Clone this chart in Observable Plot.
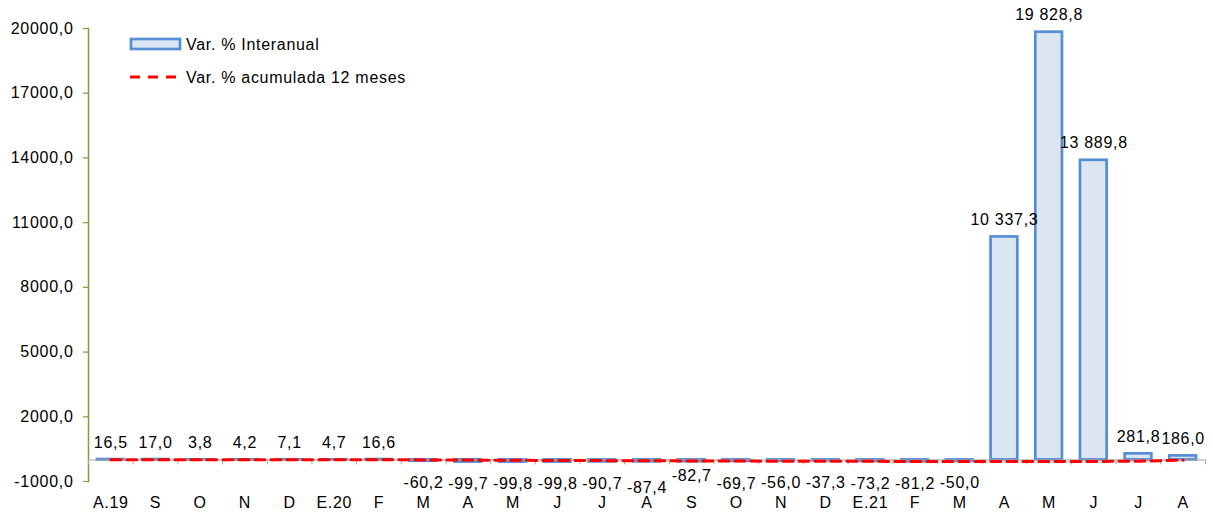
<!DOCTYPE html>
<html>
<head>
<meta charset="utf-8">
<script src="https://cdn.jsdelivr.net/npm/d3@7"></script>
<script src="https://cdn.jsdelivr.net/npm/@observablehq/plot@0.6"></script>
<style>
  html, body { margin: 0; padding: 0; background: #fff; }
  #chart { position: relative; width: 1213px; height: 513px; }
</style>
</head>
<body>
<div id="chart"></div>
<script>
const months = ["A.19","S","O","N","D","E.20","F","M","A","M","J","J","A","S","O","N","D","E.21","F","M","A","M","J","J","A"];
const interanual = [16.5,17.0,3.8,4.2,7.1,4.7,16.6,-60.2,-99.7,-99.8,-99.8,-90.7,-87.4,-82.7,-69.7,-56.0,-37.3,-73.2,-81.2,-50.0,10337.3,19828.8,13889.8,281.8,186.0];
const acumulada = [8.5,8.8,8.5,8.0,7.9,7.6,7.8,1.2,-7.5,-16.5,-25.0,-32.5,-39.8,-46.7,-52.8,-57.9,-61.2,-65.8,-71.1,-71.4,-70.8,-70.2,-68.9,-62.0,-12.0];
const yTicks = [-1000,2000,5000,8000,11000,14000,17000,20000];
const legendLabels = ["Var. % Interanual","Var. % acumulada 12 meses"];

const W = 1213, H = 513, ML = 88, MR = 8, MT = 28, MB = 32;
const yMin = -1000, yMax = 20000;
const idx = d3.range(months.length);
const bw = (W - ML - MR) / months.length;
const unitsPerPx = (yMax - yMin) / (H - MT - MB);
const tickUnits = 5 * unitsPerPx;

const loc = d3.formatLocale({decimal: ",", thousands: " ", grouping: [3], currency: ["", ""], minus: "-"});
const fmtVal = loc.format(",.1f");
const fmtAxis = loc.format(".1f");

const green = "#7f9f3f";
const barFill = "#dce6f2";
const barStroke = "#558ed5";
const red = "#ff0000";
const font = "'Liberation Sans', Arial, sans-serif";

const pos = idx.filter(i => interanual[i] >= 0);
const negDefault = idx.filter(i => interanual[i] < 0 && i !== 12 && i !== 13);

const plot = Plot.plot({
  width: W, height: H,
  marginLeft: ML, marginRight: MR, marginTop: MT, marginBottom: MB,
  style: {fontFamily: font, fontSize: "16px", letterSpacing: "0.7px", color: "#000", background: "#fff"},
  x: {type: "band", domain: idx, padding: 0, round: false, label: null},
  y: {domain: [yMin, yMax], label: null},
  marks: [
    Plot.axisY({ticks: yTicks, tickSize: 5, tickPadding: 10, tickFormat: fmtAxis, stroke: green, fill: "#000", strokeWidth: 1.2, label: null}),
    Plot.axisX({tickSize: 0, tickPadding: 15, tickFormat: i => months[i], fill: "#000", label: null}),
    Plot.frame({anchor: "left", stroke: green, strokeWidth: 1.5}),
    Plot.barY(idx, {x: i => i, y: i => interanual[i], fill: barFill, stroke: barStroke, strokeWidth: 2.7, insetLeft: 9, insetRight: 9}),
    Plot.ruleY([0], {stroke: "#a6a6a6", strokeWidth: 1}),
    Plot.ruleX(idx, {x: i => i, dx: -bw / 2, y1: 0, y2: -tickUnits, stroke: "#a6a6a6"}),
    Plot.ruleX([idx.length - 1], {x: i => i, dx: bw / 2, y1: 0, y2: -tickUnits, stroke: "#a6a6a6"}),
    Plot.lineY(idx, {x: i => i, y: i => acumulada[i], stroke: red, strokeWidth: 3, strokeDasharray: "10,6"}),
    Plot.text(pos, {x: i => i, y: i => interanual[i], text: i => fmtVal(interanual[i]), dy: -17, fill: "#000"}),
    Plot.text(negDefault, {x: i => i, y: i => interanual[i], text: i => fmtVal(interanual[i]), dy: 22, fill: "#000"}),
    Plot.text([12], {x: i => i, y: i => interanual[i], text: i => fmtVal(interanual[i]), dy: 26, fill: "#000"}),
    Plot.text([13], {x: i => i, y: i => interanual[i], text: i => fmtVal(interanual[i]), dy: 14, fill: "#000"})
  ]
});

document.getElementById("chart").appendChild(plot);

// Legend inside the plot area
const svg = d3.select(plot);
const lg = svg.append("g")
  .attr("font-family", font).attr("font-size", 16).attr("letter-spacing", "0.7px")
  .attr("text-anchor", "start").attr("fill", "#000");
lg.append("rect").attr("x", 131).attr("y", 39).attr("width", 49).attr("height", 10)
  .attr("fill", barFill).attr("stroke", barStroke).attr("stroke-width", 2.7);
lg.append("text").attr("x", 186).attr("y", 44).attr("dy", "0.35em").attr("text-anchor", "start").text(legendLabels[0]);
lg.append("line").attr("x1", 130).attr("x2", 180).attr("y1", 77).attr("y2", 77)
  .attr("stroke", red).attr("stroke-width", 3).attr("stroke-dasharray", "10,8");
lg.append("text").attr("x", 186).attr("y", 77).attr("dy", "0.35em").attr("text-anchor", "start").text(legendLabels[1]);
</script>
</body>
</html>
